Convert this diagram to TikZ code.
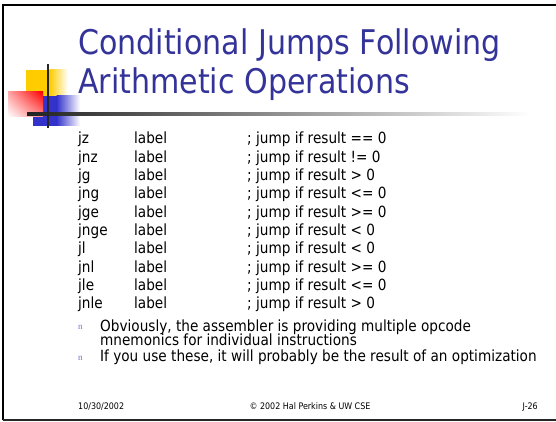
\documentclass[tikz,border=0pt]{standalone}
\usepackage{fontspec}
\setmainfont[FakeStretch=0.885]{DejaVu Sans}
\newfontfamily\bulletfont{Liberation Serif}
\usetikzlibrary{shadings}

\definecolor{titleblue}{HTML}{333399}
\definecolor{decoyellow}{HTML}{FFCC00}
\definecolor{decoblue}{HTML}{3333CC}
\definecolor{decored}{HTML}{FF0000}
\definecolor{ruledark}{HTML}{222222}

\tikzset{
  titletext/.style={anchor=base west, inner sep=0pt, text=titleblue,
    font=\fontsize{34}{40}\selectfont},
  codetext/.style={anchor=base west, inner sep=0pt,
    font=\fontsize{15.4}{18}\selectfont},
  bodytext/.style={anchor=base west, inner sep=0pt,
    font=\fontsize{15.4}{18}\selectfont},
  bulletmark/.style={anchor=base west, inner sep=0pt, text=decoblue!70,
    font=\bulletfont\fontsize{9}{10}\selectfont},
  foottext/.style={inner sep=0pt, font=\fontsize{9}{10}\selectfont},
  framepart/.style={line width=2pt, black},
}

\begin{document}
\begin{tikzpicture}[x=1pt,y=-1pt]
\useasboundingbox (0,0) rectangle (556,422);
\clip (0,0) rectangle (556,422);
\fill[white] (0,0) rectangle (556,422);

% slide frame
\draw[framepart] (3,420) -- (3,5) -- (560,5);
\draw[line width=1.6pt, black!85] (3,420) -- (560,420);

% corner ornament: yellow, blue and red tiles
\fill[decoyellow] (26,70) rectangle (50,100);
\shade[left color=decoyellow, right color=white] (49.5,70) rectangle (68,100);
\fill[decoblue] (33,96) rectangle (57,126);
\shade[left color=decoblue, right color=white] (56.5,96) rectangle (80,126);
\shade[upper right=decored, upper left=decored!35, lower right=decored!45, lower left=white]
  (8,92) rectangle (43,117);

% title rule fading to the right, and the crossing bar
\shade[left color=ruledark, right color=white] (27,112.5) rectangle (530,115.5);
\draw[line width=2pt, black!85] (48,64) -- (48,128);

% title
\node[titletext] (t1) at (78,55) {Conditional Jumps Following};
\node[titletext] (t2) at (78,94) {Arithmetic Operations};

% opcode table
\foreach \op/\cond [count=\i from 0] in {
    jz/{== 0}, jnz/{!= 0}, jg/{> 0}, jng/{<= 0}, jge/{>= 0},
    jnge/{< 0}, jl/{< 0}, jnl/{>= 0}, jle/{<= 0}, jnle/{> 0}} {
  \pgfmathsetmacro{\yy}{144+18.33*\i}
  \node[codetext] (op\i) at (78,\yy) {\op};
  \node[codetext] (lab\i) at (134,\yy) {label};
  \node[codetext] (cm\i) at (247,\yy) {; jump if result \cond};
}

% bullet points
\node[bulletmark] (b1) at (78,329) {n};
\node[bodytext] (p1a) at (100,331) {Obviously, the assembler is providing multiple opcode};
\node[bodytext] (p1b) at (100,345) {mnemonics for individual instructions};
\node[bulletmark] (b2) at (78,360) {n};
\node[bodytext] (p2) at (100,361) {If you use these, it will probably be the result of an optimization};

% footer
\node[foottext, anchor=base west] (date) at (78,409) {10/30/2002};
\node[foottext, anchor=base] (copy) at (310,409) {© 2002 Hal Perkins \& UW CSE};
\node[foottext, anchor=base east] (num) at (538,409) {J-26};
\end{tikzpicture}
\end{document}
